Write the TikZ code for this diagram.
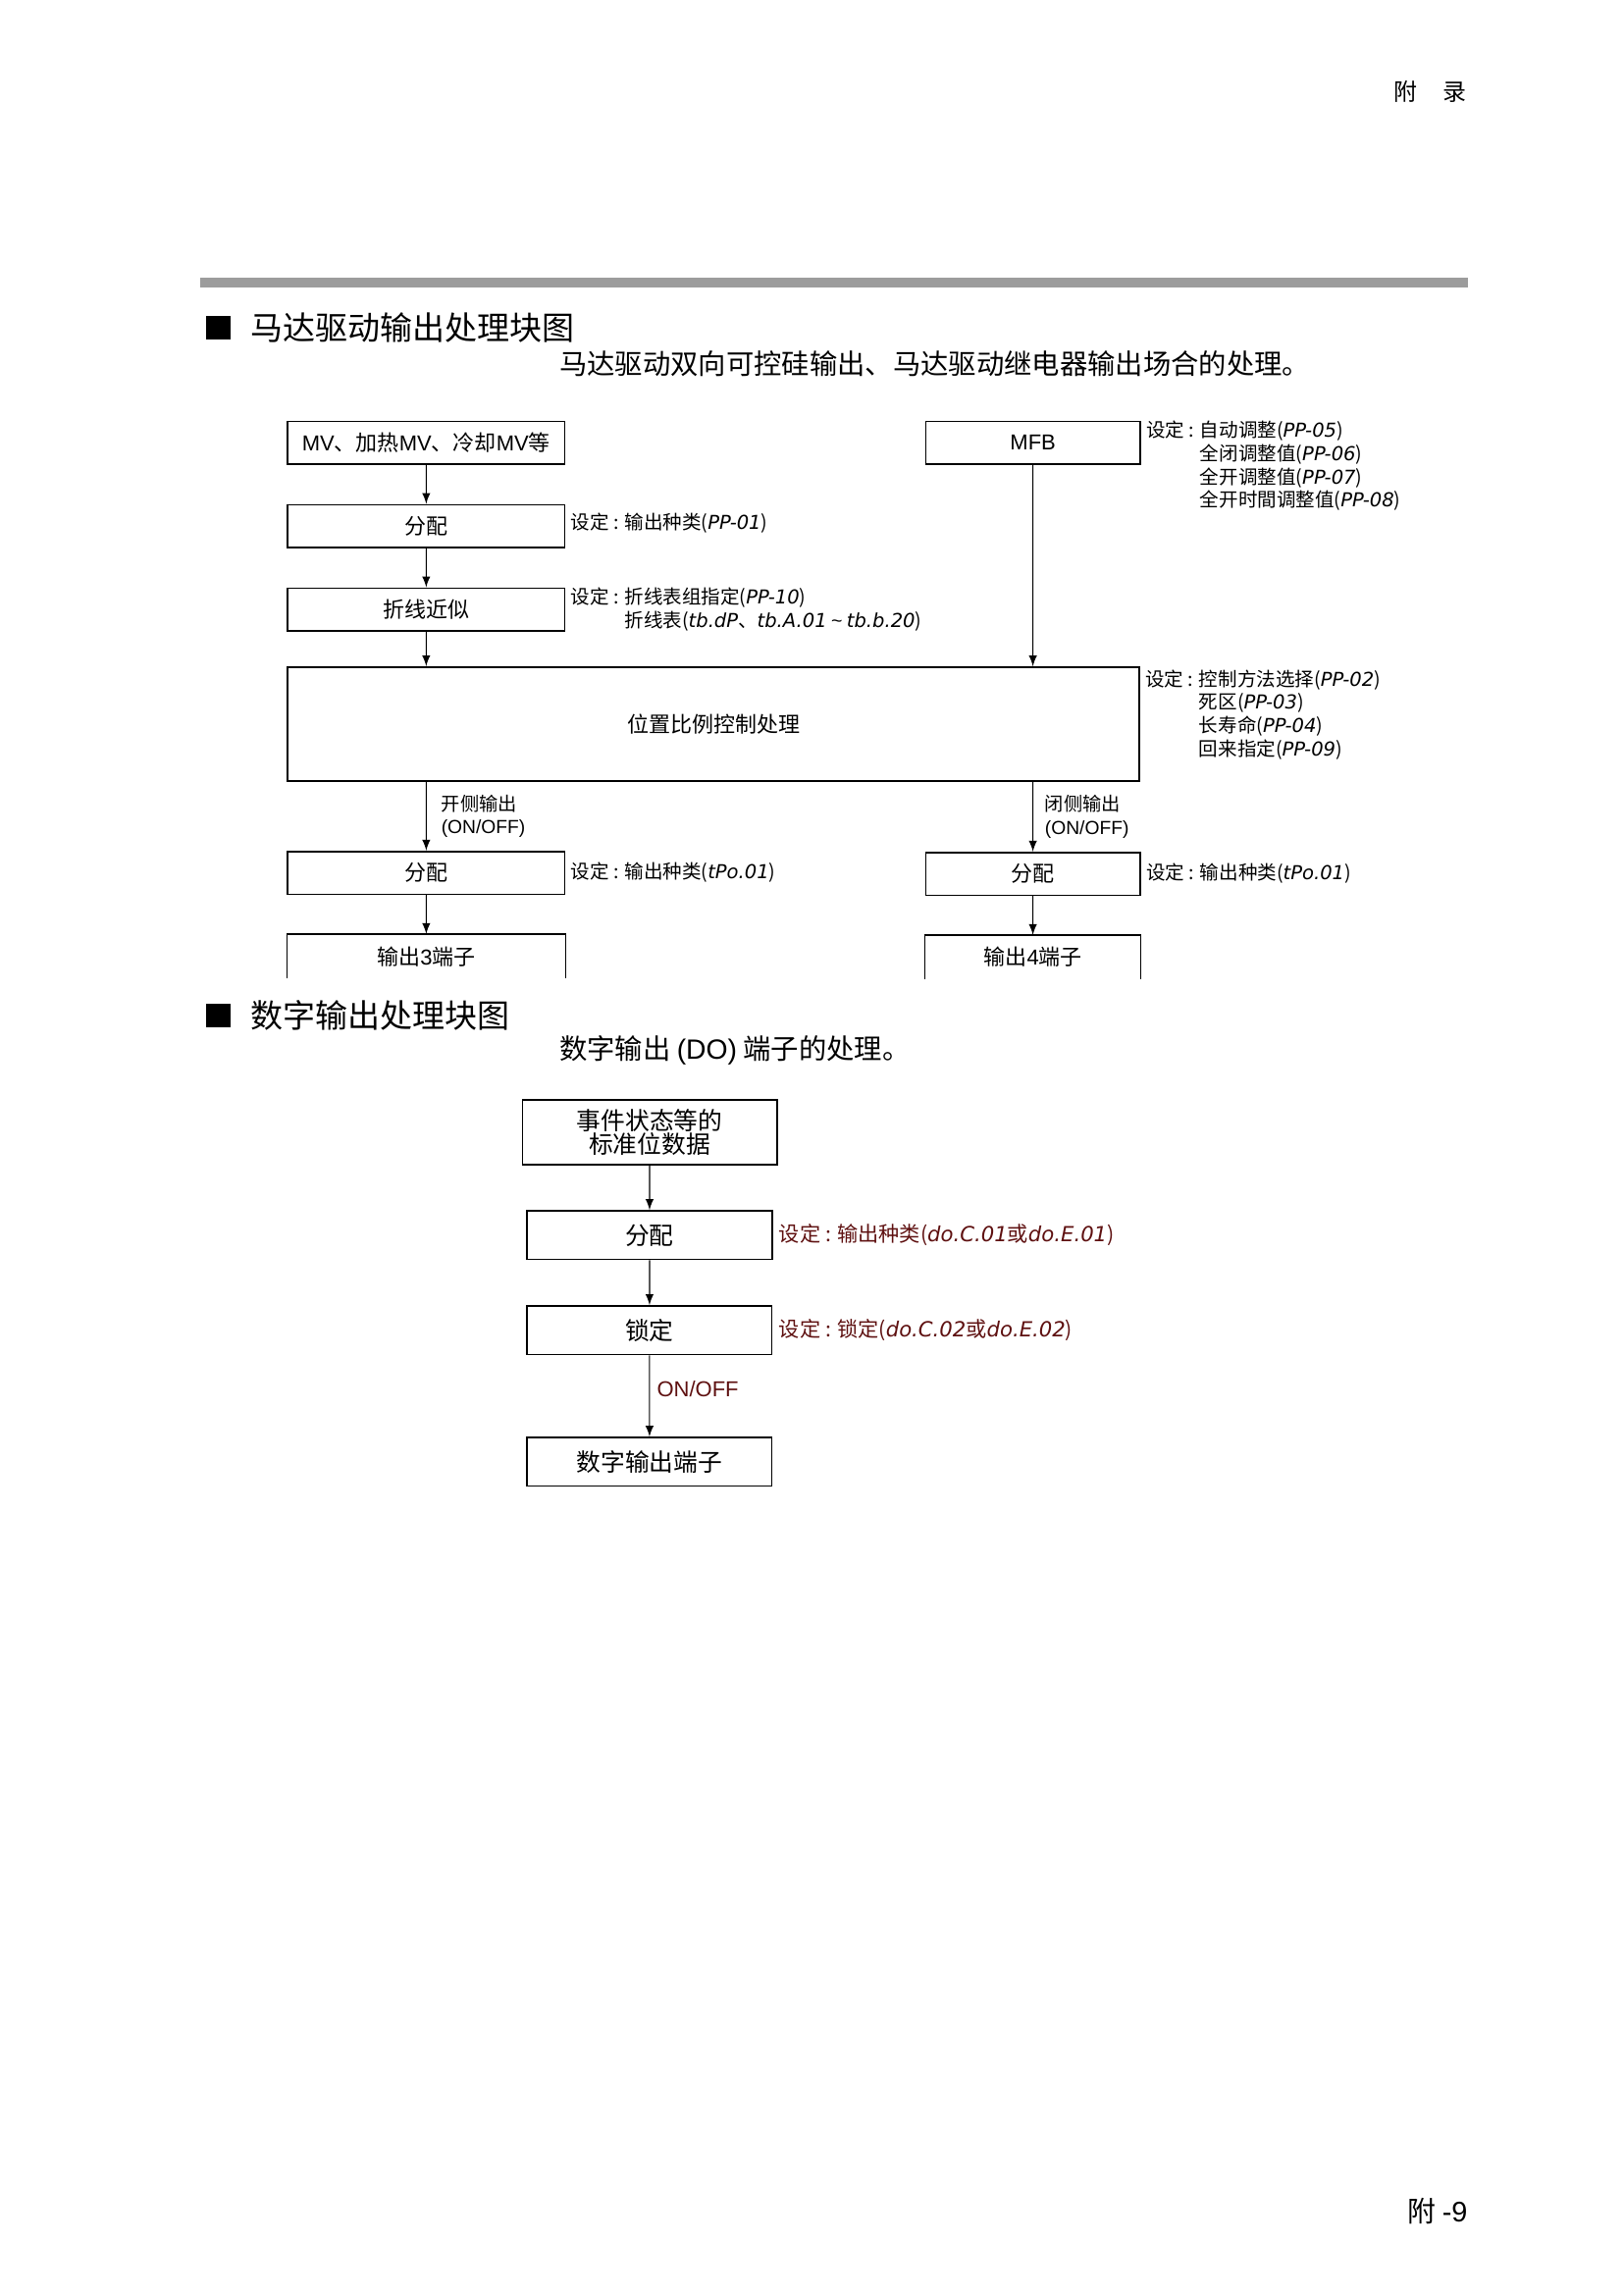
\documentclass[tikz,border=0pt]{standalone}
\usepackage{fontspec}
\setmainfont{Noto Sans CJK SC}
\newfontfamily\latfont{Liberation Sans}
\newfontfamily\segfont{DejaVu Sans}
\newcommand\lat[1]{{\latfont #1}}
\newcommand\pcode[1]{{\segfont\itshape #1}}
\newcommand\setlbl{设定 : }
\newcommand\setgap{\hphantom{设定 : }}
\usepackage{xcolor}
\usetikzlibrary{positioning}
\usetikzlibrary{arrows}
\definecolor{notered}{HTML}{5E1010}
\definecolor{bargray}{HTML}{9C9C9C}

\begin{document}
\begin{tikzpicture}[x=0.127mm,y=-0.127mm,node distance=5.08mm,
 box/.style={draw,line width=0.55pt,minimum width=36.07mm,minimum height=5.59mm,
 inner sep=0pt,font=\fontsize{8}{9.6}\selectfont},
 openbox/.style={box,draw=none},
 dbox/.style={box,minimum width=31.88mm,minimum height=6.35mm,font=\fontsize{9}{9}\selectfont},
 note/.style={inner sep=0pt,align=left,font=\fontsize{7.1}{8.6}\selectfont},
 dnote/.style={note,text=notered,font=\fontsize{7.7}{9}\selectfont},
 tag/.style={inner sep=0pt,align=left,font=\fontsize{7}{8.6}\selectfont},
 title/.style={inner sep=0pt,anchor=west,font=\fontsize{12}{14}\selectfont},
 subtitle/.style={inner sep=0pt,anchor=west,font=\fontsize{10.3}{12}\selectfont},
 every path/.style={line width=0.4pt}]

\useasboundingbox (0,0) rectangle (1654,2339);

\begin{scope}[scale=0.994,transform shape]
% page head and foot
\node[inner sep=0pt,anchor=west,font=\fontsize{8.7}{10}\selectfont] (head) at (1428,94) {附\hspace{1.1em}录};
\node[inner sep=0pt,anchor=east,font=\fontsize{10.5}{12}\selectfont] (foot) at (1505,2267) {附 \lat{-9}};
\fill[bargray] (205,285) rectangle (1505,295);

% motor drive output
\fill (211,324) rectangle (236,348);
\node[title] (t1) at (256,336) {马达驱动输出处理块图};
\node[subtitle] (s1) at (573,373) {马达驱动双向可控硅输出、马达驱动继电器输出场合的处理。};

\node[box] (mv) at (437,454) {\lat{MV}、加热\lat{MV}、冷却\lat{MV}等};
\node[box,below=of mv] (dist1) {分配};
\node[box,below=of dist1] (poly) {折线近似};
\node[box,minimum width=27.94mm] (mfb) at (1059,454) {\lat{MFB}};
\node[box,minimum width=110.87mm,minimum height=14.86mm] (pcp) at (731.5,742.5) {位置比例控制处理};
\node[box] (dist3) at (437,895) {分配};
\node[box,minimum width=27.94mm] (dist4) at (1059,896) {分配};
\node[openbox,below=of dist3] (out3) {输出\lat{3}端子};
\node[openbox,minimum width=27.94mm,below=of dist4] (out4) {输出\lat{4}端子};
\draw[line width=0.55pt] (out3.south west) |- (out3.north east) -- (out3.south east);
\draw[line width=0.55pt] (out4.south west) |- (out4.north east) -- (out4.south east);

\draw[-latex] (mv) -- (dist1);
\draw[-latex] (dist1) -- (poly);
\draw[-latex] (poly) -- (poly|-pcp.north);
\draw[-latex] (mfb) -- (mfb|-pcp.north);
\draw[-latex] (pcp.south-|dist3) -- (dist3)
 node[tag,midway,right=1.9mm]{开侧输出\\\lat{(ON/OFF)}};
\draw[-latex] (pcp.south-|dist4) -- (dist4)
 node[tag,midway,right=1.5mm]{闭侧输出\\\lat{(ON/OFF)}};
\draw[-latex] (dist3) -- (out3);
\draw[-latex] (dist4) -- (out4);

\node[note,anchor=north west] (mfbset) at ([xshift=0.64mm]mfb.north east)
 {\setlbl 自动调整(\pcode{PP-05})\\\setgap 全闭调整值(\pcode{PP-06})\\
 \setgap 全开调整值(\pcode{PP-07})\\\setgap 全开时間调整值(\pcode{PP-08})};
\node[note,anchor=west] (dist1set) at ([xshift=0.64mm,yshift=0.38mm]dist1.east)
 {\setlbl 输出种类(\pcode{PP-01})};
\node[note,anchor=north west] (polyset) at ([xshift=0.64mm]poly.north east)
 {\setlbl 折线表组指定(\pcode{PP-10})\\\setgap 折线表(\pcode{tb.dP}、\pcode{tb.A.01} \lat{\textasciitilde} \pcode{tb.b.20})};
\node[note,anchor=north west] (pcpset) at ([xshift=0.64mm,yshift=-0.4mm]pcp.north east)
 {\setlbl 控制方法选择(\pcode{PP-02})\\\setgap 死区(\pcode{PP-03})\\
 \setgap 长寿命(\pcode{PP-04})\\\setgap 回来指定(\pcode{PP-09})};
\node[note,anchor=west] (dist3set) at ([xshift=0.64mm]dist3.east)
 {\setlbl 输出种类(\pcode{tPo.01})};
\node[note,anchor=west] (dist4set) at ([xshift=0.64mm]dist4.east)
 {\setlbl 输出种类(\pcode{tPo.01})};

% digital output
\fill (211,1029) rectangle (236,1053);
\node[title] (t2) at (256,1041) {数字输出处理块图};
\node[subtitle] (s2) at (573,1077) {数字输出 \lat{(DO)} 端子的处理。};

\node[dbox,minimum width=33.15mm,minimum height=8.38mm,align=center] (evt) at (666,1161)
 {事件状态等的\\标准位数据};
\node[dbox,below=5.84mm of evt] (dist5) {分配};
\node[dbox,below=5.84mm of dist5] (latch) {锁定};
\node[dbox,below=10.6mm of latch] (dout) {数字输出端子};

\draw[-latex] (evt) -- (dist5);
\draw[-latex] (dist5) -- (latch);
\draw[-latex] (latch) -- (dout)
 node[tag,pos=0.42,right=0.9mm,text=notered,font=\fontsize{8}{9}\selectfont]{\lat{ON/OFF}};

\node[dnote,anchor=west] (dist5set) at ([xshift=0.76mm]dist5.east)
 {\setlbl 输出种类(\pcode{do.C.01}或\pcode{do.E.01})};
\node[dnote,anchor=west] (latchset) at ([xshift=0.76mm]latch.east)
 {\setlbl 锁定(\pcode{do.C.02}或\pcode{do.E.02})};
\end{scope}

\end{tikzpicture}
\end{document}
